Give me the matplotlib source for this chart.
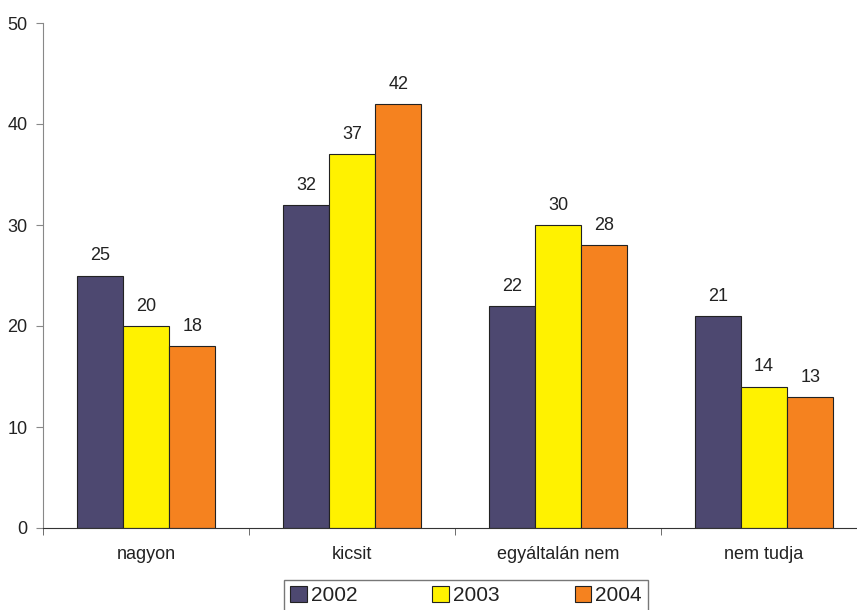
import numpy as np
import matplotlib
matplotlib.use("Agg")
import matplotlib.pyplot as plt
from matplotlib.patches import Patch

categories = ["nagyon", "kicsit", "egyáltalán nem", "nem tudja"]
years = ["2002", "2003", "2004"]
v2002 = [25, 32, 22, 21]
v2003 = [20, 37, 30, 14]
v2004 = [18, 42, 28, 13]
colors = ["#4d4870", "#fff200", "#f5821f"]

plt.rcParams["font.family"] = ["Liberation Sans", "DejaVu Sans"]
plt.rcParams["text.color"] = "#222222"

fig = plt.figure(figsize=(8.57, 6.10), dpi=100)
# category width ~206 px, so the axes run a little past the right edge
ax = fig.add_axes([43 / 857, 1 - 528 / 610, 824 / 857, (528 - 23) / 610])

x = np.arange(len(categories))
w = 0.224
for i, (vals, c) in enumerate(zip([v2002, v2003, v2004], colors)):
    pos = x + (i - 1) * w
    ax.bar(pos, vals, width=w, color=c, edgecolor="#222222", linewidth=0.8, zorder=2)
    for px, v in zip(pos, vals):
        ax.annotate(str(v), (px, v), xytext=(0, 8), textcoords="offset points",
                    ha="center", va="bottom", fontsize=13, color="#222222")

ax.set_xlim(-0.5, len(categories) - 0.5)
ax.set_ylim(0, 50)
ax.set_yticks(range(0, 51, 10))
ax.set_xticks(x)
ax.set_xticklabels(categories, fontsize=13, color="#222222")
ax.set_xticks(np.arange(len(categories) + 1) - 0.5, minor=True)
ax.tick_params(axis="x", which="major", length=0, pad=13)
ax.tick_params(axis="x", which="minor", length=5, color="#555555")
ax.tick_params(axis="y", labelsize=13, labelcolor="#222222", length=5,
               color="#888888", pad=6)
for s in ["top", "right"]:
    ax.spines[s].set_visible(False)
ax.spines["left"].set_color("#888888")
ax.spines["bottom"].set_color("#333333")

handles = [Patch(facecolor=c, edgecolor="#222222", linewidth=0.8) for c in colors]
leg = fig.legend(handles, years, loc="upper center", ncol=3,
                 bbox_to_anchor=(466 / 857, 1 - 580 / 610), fontsize=15,
                 frameon=True, fancybox=False, edgecolor="#555555",
                 handlelength=0.8, handleheight=0.8, handletextpad=0.2,
                 columnspacing=3.6, borderpad=0.3, borderaxespad=0)
leg.get_frame().set_linewidth(1.0)

fig.savefig("out.png", dpi=100)
